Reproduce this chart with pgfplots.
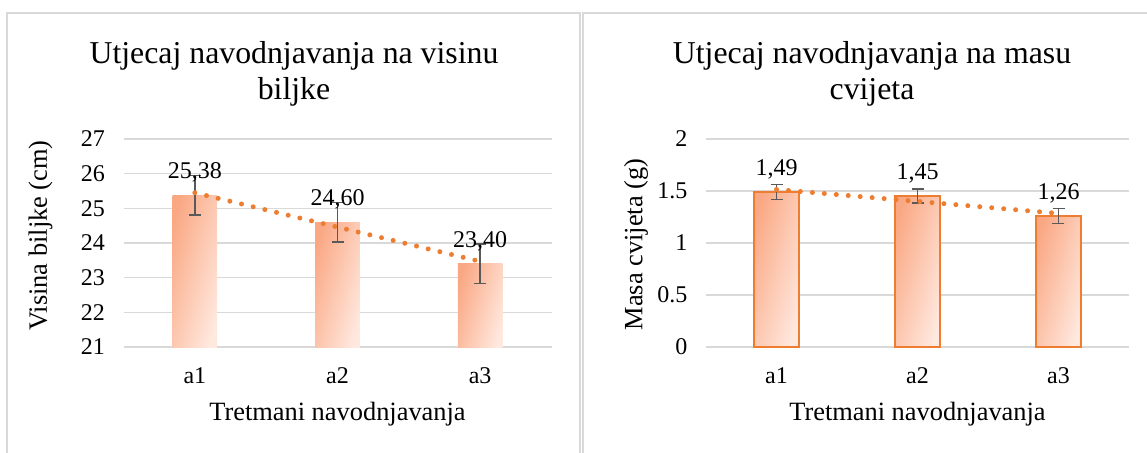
\documentclass[border=0pt]{standalone}
\usepackage{fontspec}
\setmainfont{Liberation Serif}
\usepackage{pgfplots}
\pgfplotsset{compat=1.18}
\definecolor{gridc}{HTML}{D9D9D9}
\definecolor{framec}{HTML}{D9D9D9}
\definecolor{errc}{HTML}{595959}
\definecolor{trend}{HTML}{ED7D31}
\definecolor{barA}{RGB}{250,168,132}
\definecolor{barB}{RGB}{255,232,222}
\pgfplotsset{
  mychart/.style={
    scale only axis, height=104pt,
    anchor=south west,
    xmin=-0.5, xmax=2.5, xtick={0,1,2}, xticklabels={a1,a2,a3},
    axis line style={draw=none}, major tick length=0pt,
    ymajorgrids, grid style={gridc, line width=0.75pt},
    tick label style={font=\fontsize{12}{14}\selectfont},
    /pgf/number format/assume math mode=true,
    yticklabel style={xshift=-5.75pt},
    xticklabel style={yshift=-7pt},
    label style={font=\fontsize{13.2}{15}\selectfont},
    xlabel style={at={(axis description cs:0.5,0)}, anchor=base, yshift=-36.85pt},
    clip=false,
  },
  mybars/.style={
    ybar, bar width=22.3pt, bar shift=0pt,
    left color=barA, right color=barB, shading angle=74,
    nodes near coords={\pgfmathprintnumber[fixed, fixed zerofill, precision=2, use comma, assume math mode=true]{\pgfplotspointmeta}},
    every node near coord/.append style={font=\fontsize{12}{14}\selectfont, text=black, anchor=base, yshift=8.4pt},
  },
  myerr/.style={
    draw=none, mark=none,
    error bars/.cd, y dir=both, y explicit,
    error bar style={draw=errc, line width=0.9pt},
    error mark options={rotate=90, mark size=3pt, draw=errc, line width=0.9pt},
  },
  mytrend/.style={
    trend, line width=2.5pt, line cap=round, dash pattern=on 0pt off 6pt,
  },
}
\begin{document}
\begin{tikzpicture}
\draw[framec, line width=0.75pt] (3.5pt,-240pt) -- (3.5pt,-6.5pt) -- (290pt,-6.5pt) -- (290pt,-240pt);
\draw[framec, line width=0.75pt] (291.5pt,-240pt) -- (291.5pt,-6.5pt) -- (590pt,-6.5pt);
\node[anchor=base, font=\fontsize{15.9}{18}\selectfont] at (147pt,-31.5pt) {Utjecaj navodnjavanja na visinu};
\node[anchor=base, font=\fontsize{15.9}{18}\selectfont] at (147pt,-49.5pt) {biljke};
\node[anchor=base, font=\fontsize{15.9}{18}\selectfont] at (436pt,-31.5pt) {Utjecaj navodnjavanja na masu};
\node[anchor=base, font=\fontsize{15.9}{18}\selectfont] at (436pt,-49.5pt) {cvijeta};

\begin{axis}[mychart, width=214pt, at={(61.75pt,-173.5pt)},
  ymin=21, ymax=27, ytick={21,22,23,24,25,26,27},
  xlabel={Tretmani navodnjavanja}, ylabel={Visina biljke (cm)},
  ylabel style={at={(axis description cs:-0.194,0.536)}, anchor=center},
]
\addplot[mybars, draw=none] coordinates {(0,25.38)};
\addplot[mybars, draw=none] coordinates {(1,24.60)};
\addplot[mybars, draw=none] coordinates {(2,23.40)};
\addplot[myerr] coordinates {(0,25.38) +- (0,0.57) (1,24.60) +- (0,0.57) (2,23.40) +- (0,0.57)};
\addplot[mytrend] coordinates {(0,25.45) (2,23.47)};
\end{axis}

\begin{axis}[mychart, width=211.5pt, at={(353pt,-173.5pt)},
  ymin=0, ymax=2, ytick={0,0.5,1,1.5,2},
  xlabel={Tretmani navodnjavanja}, ylabel={Masa cvijeta (g)},
  ylabel style={at={(axis description cs:-0.1655,0.493)}, anchor=center},
]
\addplot[mybars, draw=trend, line width=1pt] coordinates {(0,1.49)};
\addplot[mybars, draw=trend, line width=1pt] coordinates {(1,1.45)};
\addplot[mybars, draw=trend, line width=1pt] coordinates {(2,1.26)};
\addplot[myerr] coordinates {(0,1.49) +- (0,0.072) (1,1.45) +- (0,0.068) (2,1.26) +- (0,0.072)};
\addplot[mytrend] coordinates {(0,1.515) (2,1.285)};
\end{axis}
\pgfresetboundingbox
\path (0,0) rectangle (573.5pt,-226pt);
\end{tikzpicture}
\end{document}
